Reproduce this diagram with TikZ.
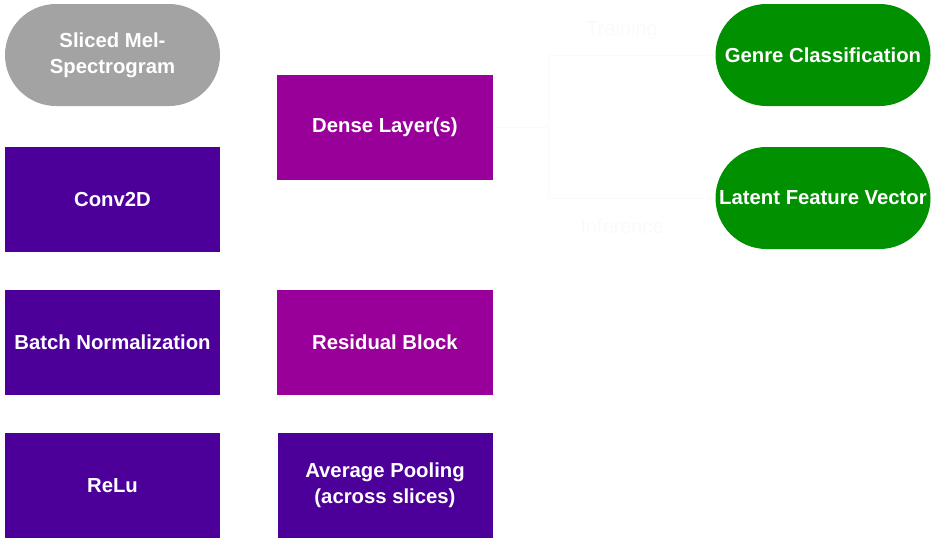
\documentclass[tikz,border=0pt]{standalone}
\usepackage{fontspec}
\setmainfont{Liberation Sans}
\usetikzlibrary{shapes.misc,arrows.meta}
\definecolor{indigoC}{HTML}{4C0099}
\definecolor{purpC}{HTML}{990099}
\definecolor{greenC}{HTML}{009000}
\definecolor{grayC}{HTML}{A3A3A3}
\definecolor{faintC}{HTML}{FAFAFA}
\tikzset{
  x=1pt,y=-1pt,
  lbl/.style={text=white,font=\fontsize{20.3}{26}\selectfont\bfseries,align=center},
  boxI/.style={lbl,fill=indigoC,minimum width=215pt,minimum height=105pt,inner sep=0pt},
  boxP/.style={lbl,fill=purpC,minimum width=216pt,minimum height=105pt,inner sep=0pt},
  pill/.style={lbl,rounded rectangle,minimum width=215pt,minimum height=102pt,inner sep=0pt},
  faint/.style={draw=faintC,line width=1pt},
  fainttext/.style={text=faintC,font=\fontsize{20}{24}\selectfont}
}
\begin{document}
\begin{tikzpicture}
\useasboundingbox (0,0) rectangle (933,541);
\node[pill,fill=grayC] (mel) at (112.5,55) {Sliced Mel-\\Spectrogram};
\node[boxI] (conv) at (112.5,199.5) {Conv2D};
\node[boxI] (bn) at (112.5,342.5) {Batch Normalization};
\node[boxI] (relu) at (112.5,485.5) {ReLu};
\node[boxP] (dense) at (385,127.5) {Dense Layer(s)};
\node[boxP] (res) at (385,342.5) {Residual Block};
\node[boxI] (avg) at (385,485.5) {Average Pooling\\(across slices)};
\node[pill,fill=greenC] (genre) at (823,55) {Genre Classification};
\node[pill,fill=greenC] (latent) at (823,198) {Latent Feature Vector};
\coordinate (split) at (548,127.5);
\draw[faint] (dense.east) -- (split);
\draw[faint,-{Stealth[length=6pt]}] (split) |- (genre.west);
\draw[faint,-{Stealth[length=6pt]}] (split) |- (latent.west);
\node[fainttext] (train) at (622,30) {Training};
\node[fainttext] (inf) at (622,226) {Inference};
\end{tikzpicture}
\end{document}
